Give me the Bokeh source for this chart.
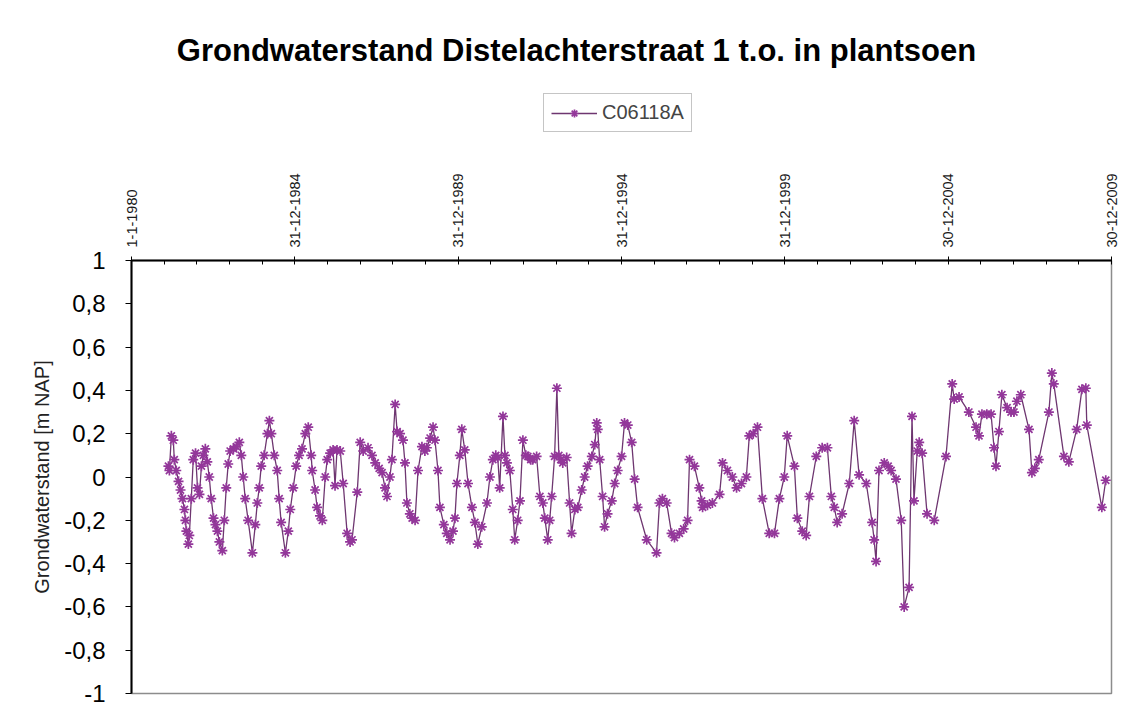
import math
import numpy as np
import pandas as pd
from bokeh.plotting import figure
from bokeh.layouts import column
from bokeh.models import ColumnDataSource, Range1d, FixedTicker, Legend, LegendItem, Label
from bokeh.embed import file_html
from bokeh.resources import INLINE

# ---------------- data ----------------
title_text = "Grondwaterstand Distelachterstraat 1 t.o. in plantsoen"
series_name = "C06118A"
y_label = "Grondwaterstand [m NAP]"

x_tick_dates = ["1980-01-01", "1984-12-31", "1989-12-31", "1994-12-31",
                "1999-12-31", "2004-12-30", "2009-12-30"]
x_tick_labels = ["1-1-1980", "31-12-1984", "31-12-1989", "31-12-1994",
                 "31-12-1999", "30-12-2004", "30-12-2009"]

y_ticks = [-1, -0.8, -0.6, -0.4, -0.2, 0, 0.2, 0.4, 0.6, 0.8, 1]
y_tick_labels = ["-1", "-0,8", "-0,6", "-0,4", "-0,2", "0", "0,2", "0,4", "0,6", "0,8", "1"]

years = [
    1981.13, 1981.16, 1981.22, 1981.28, 1981.31, 1981.37, 1981.44, 1981.50, 1981.56, 1981.62,
    1981.65, 1981.68, 1981.74, 1981.77, 1981.83, 1981.89, 1981.96, 1982.02, 1982.08, 1982.14,
    1982.20, 1982.26, 1982.32, 1982.38, 1982.44, 1982.51, 1982.57, 1982.63, 1982.69, 1982.78,
    1982.84, 1982.90, 1982.96, 1983.02, 1983.12, 1983.21, 1983.30, 1983.36, 1983.42, 1983.48,
    1983.57, 1983.70, 1983.79, 1983.85, 1983.91, 1983.97, 1984.06, 1984.16, 1984.22, 1984.28,
    1984.37, 1984.46, 1984.52, 1984.58, 1984.71, 1984.80, 1984.86, 1984.95, 1985.04, 1985.13,
    1985.22, 1985.32, 1985.41, 1985.50, 1985.53, 1985.62, 1985.68, 1985.77, 1985.84, 1985.93,
    1985.99, 1986.08, 1986.17, 1986.23, 1986.29, 1986.39, 1986.48, 1986.60, 1986.69, 1986.75,
    1986.91, 1987.00, 1987.09, 1987.24, 1987.36, 1987.46, 1987.58, 1987.67, 1987.76, 1987.82,
    1987.91, 1987.97, 1988.07, 1988.13, 1988.22, 1988.31, 1988.37, 1988.43, 1988.52, 1988.59,
    1988.68, 1988.77, 1988.89, 1988.98, 1989.04, 1989.14, 1989.23, 1989.29, 1989.38, 1989.44,
    1989.56, 1989.65, 1989.75, 1989.84, 1989.90, 1989.96, 1990.05, 1990.11, 1990.20, 1990.30,
    1990.42, 1990.51, 1990.60, 1990.72, 1990.88, 1990.97, 1991.06, 1991.15, 1991.21, 1991.27,
    1991.37, 1991.43, 1991.49, 1991.58, 1991.67, 1991.73, 1991.82, 1991.89, 1991.98, 1992.07,
    1992.13, 1992.22, 1992.28, 1992.40, 1992.50, 1992.59, 1992.65, 1992.74, 1992.80, 1992.86,
    1992.95, 1993.02, 1993.08, 1993.14, 1993.20, 1993.32, 1993.41, 1993.47, 1993.57, 1993.66,
    1993.78, 1993.87, 1993.96, 1994.09, 1994.18, 1994.24, 1994.27, 1994.33, 1994.42, 1994.48,
    1994.57, 1994.70, 1994.79, 1994.88, 1995.00, 1995.09, 1995.19, 1995.31, 1995.40, 1995.49,
    1995.77, 1996.07, 1996.16, 1996.25, 1996.38, 1996.53, 1996.62, 1996.77, 1996.90, 1997.02,
    1997.08, 1997.23, 1997.38, 1997.45, 1997.48, 1997.63, 1997.78, 1998.00, 1998.09, 1998.24,
    1998.39, 1998.52, 1998.67, 1998.82, 1998.91, 1999.03, 1999.16, 1999.31, 1999.52, 1999.68,
    1999.83, 1999.98, 2000.07, 2000.29, 2000.38, 2000.53, 2000.65, 2000.75, 2000.96, 2001.14,
    2001.30, 2001.42, 2001.51, 2001.60, 2001.75, 2001.97, 2002.12, 2002.27, 2002.49, 2002.67,
    2002.73, 2002.79, 2002.88, 2003.04, 2003.16, 2003.25, 2003.40, 2003.56, 2003.65, 2003.80,
    2003.89, 2003.95, 2004.05, 2004.11, 2004.20, 2004.35, 2004.57, 2004.93, 2005.12, 2005.18,
    2005.33, 2005.63, 2005.85, 2005.94, 2006.03, 2006.18, 2006.31, 2006.40, 2006.46, 2006.55,
    2006.64, 2006.80, 2006.92, 2007.01, 2007.10, 2007.22, 2007.47, 2007.56, 2007.65, 2007.77,
    2008.08, 2008.17, 2008.23, 2008.54, 2008.69, 2008.93, 2009.09, 2009.21, 2009.24, 2009.70,
    2009.82,
]

levels = [
    0.05, 0.03, 0.19, 0.17, 0.08, 0.03, -0.02, -0.06, -0.10, -0.15,
    -0.20, -0.25, -0.31, -0.27, -0.10, 0.08, 0.11, -0.05, -0.08, 0.05,
    0.10, 0.13, 0.07, 0.00, -0.10, -0.19, -0.22, -0.25, -0.30, -0.34,
    -0.20, -0.05, 0.06, 0.12, 0.13, 0.14, 0.16, 0.10, 0.00, -0.10,
    -0.20, -0.35, -0.22, -0.12, -0.05, 0.05, 0.10, 0.20, 0.26, 0.20,
    0.10, 0.03, -0.10, -0.21, -0.35, -0.25, -0.15, -0.05, 0.05, 0.10,
    0.13, 0.20, 0.23, 0.10, 0.03, -0.06, -0.14, -0.18, -0.20, 0.00,
    0.08, 0.11, 0.125, -0.04, 0.125, 0.12, -0.03, -0.26, -0.30, -0.29,
    -0.07, 0.16, 0.12, 0.135, 0.10, 0.065, 0.04, 0.02, -0.05, -0.09,
    0.00, 0.08, 0.335, 0.21, 0.20, 0.17, 0.065, -0.12, -0.17, -0.19,
    -0.20, 0.03, 0.14, 0.12, 0.135, 0.18, 0.23, 0.17, 0.03, -0.14,
    -0.22, -0.26, -0.29, -0.25, -0.19, -0.03, 0.10, 0.22, 0.125, -0.03,
    -0.14, -0.21, -0.31, -0.23, -0.12, 0.00, 0.08, 0.10, 0.09, -0.05,
    0.28, 0.10, 0.065, 0.03, -0.15, -0.29, -0.20, -0.11, 0.17, 0.10,
    0.095, 0.08, 0.08, 0.095, -0.09, -0.12, -0.19, -0.29, -0.20, -0.09,
    0.095, 0.41, 0.10, 0.08, 0.065, 0.09, -0.12, -0.26, -0.15, -0.14,
    -0.06, 0.00, 0.05, 0.095, 0.15, 0.25, 0.22, 0.08, -0.09, -0.23,
    -0.17, -0.11, -0.03, 0.03, 0.095, 0.25, 0.24, 0.16, -0.01, -0.14,
    -0.29, -0.35, -0.12, -0.10, -0.12, -0.26, -0.28, -0.26, -0.24, -0.20,
    0.08, 0.05, -0.05, -0.11, -0.14, -0.13, -0.12, -0.08, 0.065, 0.03,
    0.00, -0.05, -0.03, 0.00, 0.19, 0.20, 0.23, -0.10, -0.26, -0.26,
    -0.10, 0.00, 0.19, 0.05, -0.19, -0.25, -0.27, -0.09, 0.095, 0.135,
    0.135, -0.09, -0.14, -0.21, -0.17, -0.03, 0.26, 0.01, -0.03, -0.21,
    -0.29, -0.39, 0.03, 0.065, 0.05, 0.03, -0.01, -0.20, -0.60, -0.51,
    0.28, -0.11, 0.12, 0.16, 0.11, -0.17, -0.20, 0.095, 0.43, 0.36,
    0.37, 0.30, 0.23, 0.19, 0.29, 0.29, 0.29, 0.135, 0.05, 0.21,
    0.38, 0.32, 0.30, 0.30, 0.35, 0.38, 0.22, 0.02, 0.04, 0.08,
    0.30, 0.48, 0.43, 0.095, 0.07, 0.22, 0.405, 0.41, 0.24, -0.14,
    -0.015,
]

# ---------------- derived (unit conversion only) ----------------
base = pd.Timestamp("1980-01-01")
x_ticks = [int((pd.Timestamp(d) - base).days) for d in x_tick_dates]
minor = []
for a, b in zip(x_ticks[:-1], x_ticks[1:]):
    for k in range(1, 5):
        minor.append(a + k * (b - a) / 5.0)
days = [(yv - 1980.0) * 365.25 for yv in years]
src = ColumnDataSource(data=dict(x=days, y=levels))

FONT = "Liberation Sans"
W = 1130
TOP_H = 150
FRAME_LEFT = 131
LINE_COLOR = "#6e3670"
MARK_COLOR = "#93379a"

# ---------------- header (title + legend) ----------------
head = figure(width=W, height=TOP_H, output_backend="svg", toolbar_location=None,
              x_range=Range1d(0, 1), y_range=Range1d(0, 1),
              x_axis_location=None, y_axis_location=None,
              min_border_left=0, min_border_right=0, min_border_top=0, min_border_bottom=0)
head.outline_line_color = None
head.xgrid.visible = False
head.ygrid.visible = False
head.background_fill_color = "white"
head.border_fill_color = "white"

head.add_layout(Label(x=576 - FRAME_LEFT, y=TOP_H - 50, x_units="screen", y_units="screen",
                      text=title_text, text_align="center", text_baseline="middle",
                      text_font=FONT, text_font_size="31px", text_font_style="bold",
                      text_color="black"))

# legend sample glyphs (kept outside the header's visible range)
dummy_line = head.line(x=[5, 6], y=[5, 5], line_color=LINE_COLOR, line_width=1.3)
dummy_mark = head.scatter(x=[5], y=[5], marker="asterisk", size=10,
                          line_color=MARK_COLOR, line_width=1.7)
legend = Legend(items=[LegendItem(label=series_name, renderers=[dummy_line, dummy_mark])],
                orientation="horizontal", location=(543 - FRAME_LEFT, TOP_H - 132),
                border_line_color="#8c8c8c", border_line_width=1.5,
                label_text_font=FONT, label_text_font_size="20px",
                glyph_width=46, glyph_height=20, padding=7, margin=0,
                label_standoff=5)
head.add_layout(legend, "center")

# ---------------- main chart ----------------
p = figure(width=W, height=718 - TOP_H, output_backend="svg", toolbar_location=None,
           x_range=Range1d(x_ticks[0], x_ticks[-1]), y_range=Range1d(-1, 1),
           x_axis_location="above",
           min_border_left=FRAME_LEFT, min_border_right=W - 1111,
           min_border_top=260 - TOP_H, min_border_bottom=25)
p.background_fill_color = "white"
p.border_fill_color = "white"
p.outline_line_color = "#8c8c8c"
p.outline_line_width = 1.5
p.xgrid.visible = False
p.ygrid.visible = False

xa = p.xaxis[0]
xa.ticker = FixedTicker(ticks=x_ticks, minor_ticks=minor)
xa.major_label_overrides = dict(zip(x_ticks, x_tick_labels))
xa.major_label_orientation = math.pi / 2
xa.major_label_text_font = FONT
xa.major_label_text_font_size = "14.5px"
xa.major_label_text_color = "#1a1a1a"
xa.major_label_standoff = 9
xa.axis_line_color = "black"
xa.axis_line_width = 1.8
xa.major_tick_in = 4
xa.major_tick_out = 4
xa.minor_tick_in = 4
xa.minor_tick_out = 0
xa.major_tick_line_color = "black"
xa.minor_tick_line_color = "black"

ya = p.yaxis[0]
ya.ticker = FixedTicker(ticks=y_ticks, minor_ticks=[])
ya.major_label_overrides = dict(zip(y_ticks, y_tick_labels))
ya.major_label_text_font = FONT
ya.major_label_text_font_size = "24px"
ya.major_label_text_color = "black"
ya.major_label_standoff = 20
ya.axis_line_color = "black"
ya.axis_line_width = 2
ya.major_tick_in = 0
ya.major_tick_out = 6
ya.major_tick_line_color = "black"
ya.minor_tick_out = 0
ya.minor_tick_in = 0
ya.axis_label = y_label
ya.axis_label_text_font = FONT
ya.axis_label_text_font_size = "20px"
ya.axis_label_text_font_style = "normal"
ya.axis_label_text_color = "#222222"
ya.axis_label_standoff = 8

line_r = p.line("x", "y", source=src, line_color=LINE_COLOR, line_width=1.3)
mark_r = p.scatter("x", "y", source=src, marker="asterisk", size=10,
                   line_color=MARK_COLOR, line_width=1.7)

layout = column(head, p, spacing=0)
open("out.html", "w").write(file_html(layout, INLINE))
